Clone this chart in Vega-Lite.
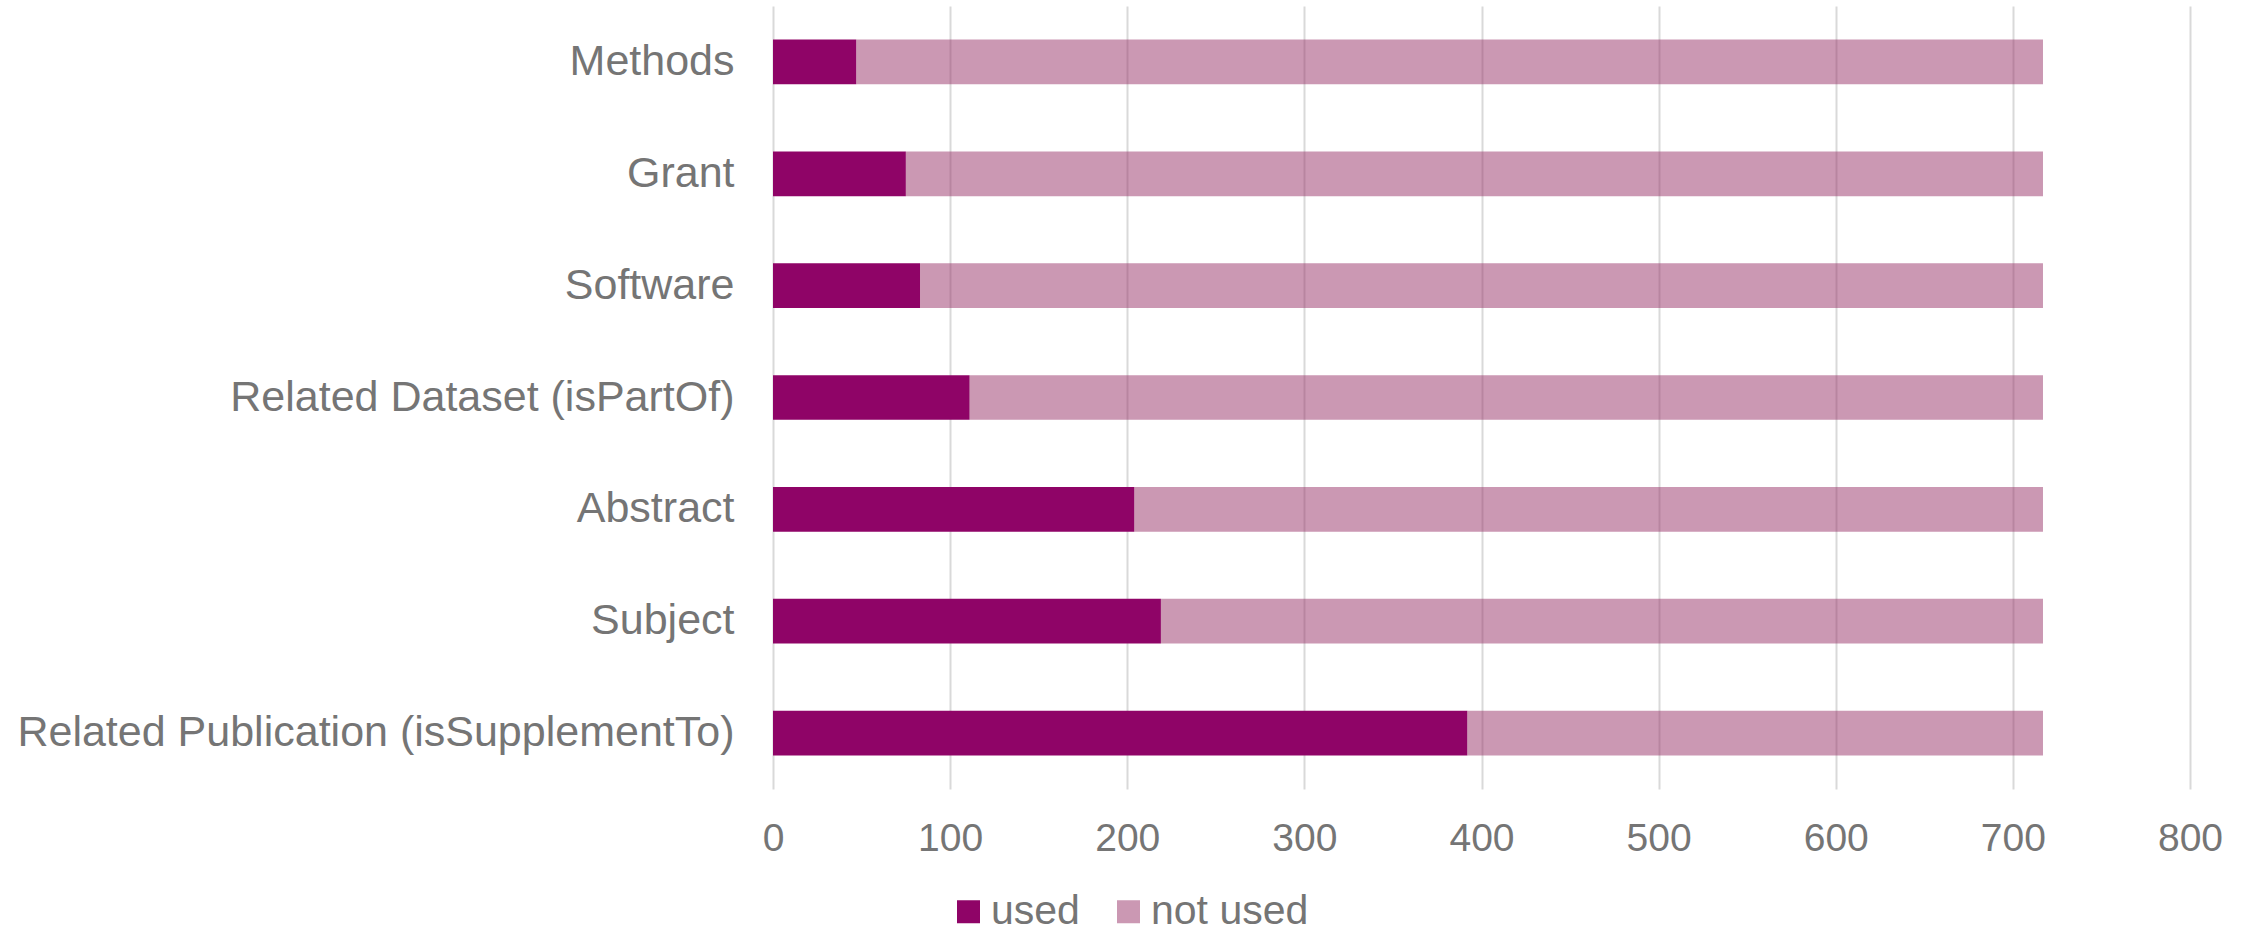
{
  "$schema": "https://vega.github.io/schema/vega-lite/v6.json",
  "width": 1417,
  "height": 783,
  "padding": {"left": 16, "top": 6, "right": 0, "bottom": 0},
  "background": "white",
  "config": {
    "view": {"stroke": null},
    "font": "Liberation Sans"
  },
  "data": {
    "values": [
      {"field": "Methods", "status": "used", "count": 47},
      {"field": "Methods", "status": "not used", "count": 670},
      {"field": "Grant", "status": "used", "count": 75},
      {"field": "Grant", "status": "not used", "count": 642},
      {"field": "Software", "status": "used", "count": 83},
      {"field": "Software", "status": "not used", "count": 634},
      {"field": "Related Dataset (isPartOf)", "status": "used", "count": 111},
      {"field": "Related Dataset (isPartOf)", "status": "not used", "count": 606},
      {"field": "Abstract", "status": "used", "count": 204},
      {"field": "Abstract", "status": "not used", "count": 513},
      {"field": "Subject", "status": "used", "count": 219},
      {"field": "Subject", "status": "not used", "count": 498},
      {"field": "Related Publication (isSupplementTo)", "status": "used", "count": 392},
      {"field": "Related Publication (isSupplementTo)", "status": "not used", "count": 325}
    ]
  },
  "mark": {"type": "bar"},
  "encoding": {
    "y": {
      "field": "field",
      "type": "nominal",
      "sort": ["Methods", "Grant", "Software", "Related Dataset (isPartOf)", "Abstract", "Subject", "Related Publication (isSupplementTo)"],
      "scale": {"paddingInner": 0.6, "paddingOuter": 0.3},
      "axis": {
        "title": null,
        "ticks": false,
        "tickSize": 0,
        "domain": false,
        "labelFontSize": 43,
        "labelColor": "#757575",
        "labelPadding": 39,
        "labelLimit": 1000
      }
    },
    "x": {
      "field": "count",
      "type": "quantitative",
      "stack": "zero",
      "scale": {"domain": [0, 800]},
      "axis": {
        "title": null,
        "values": [0, 100, 200, 300, 400, 500, 600, 700, 800],
        "grid": true,
        "gridColor": "#D9D9D9",
        "gridWidth": 2,
        "ticks": false,
        "tickSize": 0,
        "domain": false,
        "labelFlush": false,
        "labelFontSize": 39,
        "labelColor": "#757575",
        "labelPadding": 30
      }
    },
    "order": {"field": "status", "type": "nominal", "sort": "descending"},
    "color": {
      "field": "status",
      "type": "nominal",
      "sort": ["used", "not used"],
      "scale": {"domain": ["used", "not used"], "range": ["#8F0467", "#973167"]},
      "legend": {
        "title": null,
        "orient": "none",
        "direction": "horizontal",
        "legendX": 175,
        "legendY": 885,
        "symbolType": "square",
        "symbolSize": 529,
        "symbolStrokeWidth": 0,
        "labelFontSize": 41,
        "labelColor": "#757575",
        "labelOffset": 2,
        "columnPadding": 28
      }
    },
    "opacity": {
      "field": "status",
      "type": "nominal",
      "sort": ["used", "not used"],
      "scale": {"domain": ["used", "not used"], "range": [1, 0.5]},
      "legend": {
        "title": null,
        "orient": "none",
        "direction": "horizontal",
        "legendX": 175,
        "legendY": 885,
        "symbolType": "square",
        "symbolSize": 529,
        "symbolStrokeWidth": 0,
        "labelFontSize": 41,
        "labelColor": "#757575",
        "labelOffset": 2,
        "columnPadding": 28
      }
    }
  }
}
